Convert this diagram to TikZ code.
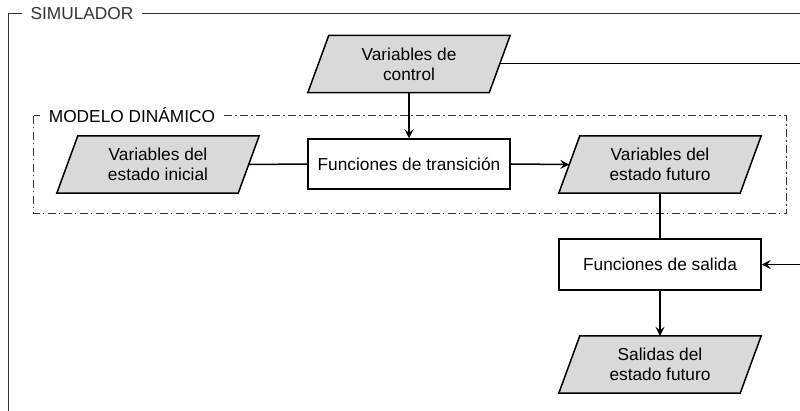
\documentclass[tikz,border=0pt]{standalone}
\usepackage{fontspec}
\setmainfont{Liberation Sans}
\usetikzlibrary{arrows.meta,backgrounds}
\definecolor{iofill}{HTML}{D9D9D9}
\definecolor{framec}{HTML}{333333}
\begin{document}
\begin{tikzpicture}[x=1pt,y=-1pt,
  font=\fontsize{17.3}{20}\selectfont,
  io/.style={rectangle, minimum width=181pt, minimum height=57pt, align=center, inner sep=0pt},
  iofillst/.style={draw=black, fill=iofill, line width=1.5pt, line join=miter},
  fn/.style={rectangle, draw=black, line width=1.5pt, minimum width=202pt,
    minimum height=50pt, inner sep=0pt},
  conn/.style={line width=1.5pt, draw=black},
  arr/.style={conn, -{Stealth[length=9pt,width=9pt,inset=3.5pt]}},
  framel/.style={draw=framec, line width=1.5pt},
  dashframe/.style={draw=framec, line width=1.3pt, dash pattern=on 8pt off 3pt on 1.5pt off 3.5pt},
  lab/.style={fill=white, text=framec, inner xsep=7pt, inner ysep=2pt},
]
\clip (0,0) rectangle (800,410);
% SIMULADOR frame
\draw[framel] (805,13.5) -- (8.5,13.5) -- (8.5,420);
\node[lab, inner xsep=9pt] (simlab) at (82,13.5) {SIMULADOR};
% MODELO DINAMICO frame
\draw[dashframe] (33.5,115.5) rectangle (786.5,213.5);
\node[lab, text=black] (modlab) at (132,115.5) {MODELO DINÁMICO};
% nodes
\node[io] (ctrl) at (409,64) {Variables de\\control};
\node[io] (ini) at (158,164.5) {Variables del\\estado inicial};
\node[fn] (trans) at (409,164) {Funciones de transición};
\node[io] (fut) at (660,164.5) {Variables del\\estado futuro};
\node[fn, minimum height=51pt] (sal) at (660,264.5) {Funciones de salida};
\node[io] (out) at (660,364.5) {Salidas del\\estado futuro};
% parallelogram outlines behind the texts
\begin{scope}[on background layer]
  \fill[white] (0,0) rectangle (800,410);
  \foreach \n in {ctrl,ini,fut,out}{
    \filldraw[iofillst] ([xshift=10.5pt]\n.north west) -- ([xshift=10.5pt]\n.north east)
      -- ([xshift=-10.5pt]\n.south east) -- ([xshift=-10.5pt]\n.south west) -- cycle;
  }
\end{scope}
% connectors
\coordinate (r1) at (806,63.5);
\coordinate (r2) at (806,264.5);
\draw[arr] (ctrl) -- (trans);
\draw[conn] (ini.east) -- (trans.west);
\draw[arr] (trans.east) -- (fut.west);
\draw[conn] (fut.south) -- (sal.north);
\draw[arr] (sal.south) -- (out.north);
\draw[arr] (ctrl.east |- r1) -- (r1) -- (r2) -- (sal.east);
\end{tikzpicture}
\end{document}
